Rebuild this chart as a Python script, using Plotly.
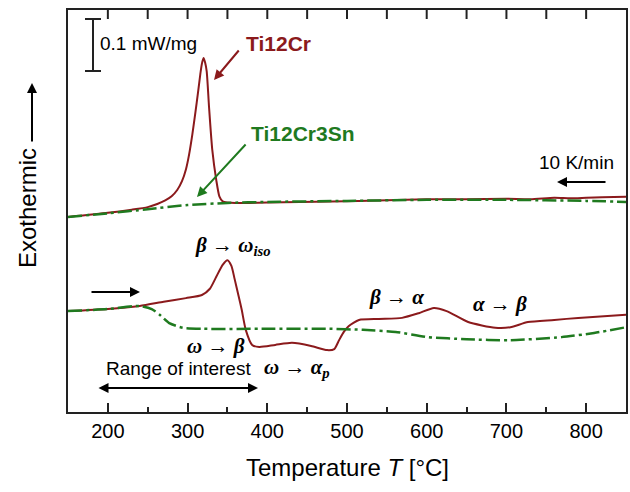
import plotly.graph_objects as go

# ---------------- data (heat flow in mW/mg, arbitrary offset) ----------------
T_cool_cr = [150, 200, 230, 250, 262, 272, 280, 287, 293, 298, 302, 306, 310, 313, 316, 318, 320,
             322, 324, 327, 331, 336, 340, 344, 350, 360, 400, 480, 550, 600, 650, 700, 730,
             760, 780, 800, 820, 850]
Q_cool_cr = [0.375, 0.383, 0.389, 0.394, 0.400, 0.407, 0.415, 0.427, 0.444, 0.467, 0.496, 0.534,
             0.578, 0.613, 0.650, 0.670, 0.681, 0.672, 0.655, 0.585, 0.504, 0.446, 0.414, 0.405,
             0.403, 0.402, 0.403, 0.405, 0.407, 0.409, 0.409, 0.410, 0.409, 0.412, 0.411, 0.412,
             0.413, 0.414]

T_cool_sn = [150, 200, 250, 300, 350, 400, 500, 600, 700, 800, 850]
Q_cool_sn = [0.375, 0.382, 0.390, 0.398, 0.402, 0.404, 0.406, 0.408, 0.408, 0.406, 0.404]

T_heat_cr = [150, 200, 240, 270, 298, 318, 328, 336, 344, 350, 355, 359, 364, 368, 373, 381,
             390, 410, 431, 455, 475, 484, 490, 496, 502, 515, 540, 569, 590, 609, 625, 652,
             686, 705, 727, 760, 790, 850]
Q_heat_cr = [0.194, 0.198, 0.204, 0.212, 0.219, 0.225, 0.237, 0.260, 0.283, 0.292, 0.281, 0.256,
             0.223, 0.196, 0.158, 0.129, 0.125, 0.129, 0.133, 0.127, 0.119, 0.121, 0.138, 0.154,
             0.165, 0.177, 0.179, 0.181, 0.190, 0.200, 0.194, 0.173, 0.162, 0.163, 0.173, 0.177,
             0.181, 0.187]

T_heat_sn = [150, 200, 240, 255, 265, 277, 294, 320, 400, 478, 520, 561, 602, 650, 704, 769, 810, 850]
Q_heat_sn = [0.194, 0.198, 0.204, 0.198, 0.187, 0.171, 0.162, 0.160, 0.160, 0.160, 0.158, 0.154,
             0.144, 0.140, 0.138, 0.144, 0.152, 0.163]

x_ticks = [200, 300, 400, 500, 600, 700, 800]
x_minor = [250, 350, 450, 550, 650, 750]

RED = "#8b1a1c"
GREEN = "#1f7a1f"

# ---------------- layout helpers (pixel -> paper) ----------------
X0, X1, Y0, Y1 = 68, 626, 10, 412
H = Y1 - Y0
def px(x):
    return (x - X0) / (X1 - X0)
def py(y):
    return (Y1 - y) / (Y1 - Y0)

fig = go.Figure()
for T, Q, col, dash, w in [
    (T_cool_cr, Q_cool_cr, RED, "solid", 2),
    (T_heat_cr, Q_heat_cr, RED, "solid", 2),
    (T_cool_sn, Q_cool_sn, GREEN, "14px,4px,3px,4px", 2.5),
    (T_heat_sn, Q_heat_sn, GREEN, "14px,4px,3px,4px", 2.5),
]:
    fig.add_trace(go.Scatter(x=T, y=Q, mode="lines",
                             line=dict(color=col, width=w, dash=dash, shape="spline", smoothing=0.6),
                             showlegend=False, hoverinfo="skip"))

AX_FONT = "Liberation Sans, Arial, sans-serif"
GR_FONT = "Liberation Serif, Times New Roman, serif"

fig.update_layout(
    width=630, height=492,
    margin=dict(l=X0, r=630 - X1, t=Y0, b=492 - Y1, autoexpand=False),
    paper_bgcolor="white", plot_bgcolor="white",
    font=dict(family=AX_FONT, color="black"),
    xaxis=dict(range=[150, 850], tickvals=x_ticks, ticks="inside", ticklen=9, tickwidth=2,
               tickcolor="#222", showgrid=False, zeroline=False, automargin=False,
               minor=dict(ticks="inside", tickvals=x_minor, ticklen=5, tickwidth=2, tickcolor="#222"),
               showline=True, linecolor="#222", linewidth=1.5, mirror=True,
               tickfont=dict(size=20, family=AX_FONT)),
    yaxis=dict(range=[0, H / 520], showticklabels=False, ticks="", showline=True,
               linecolor="#222", linewidth=1.5, mirror=True, showgrid=False, zeroline=False,
               automargin=False),
)

# ticks along the top frame (mirror of the x axis)
for t in x_ticks + x_minor:
    fig.add_shape(type="line", xref="x", yref="paper", x0=t, x1=t, y0=1, y1=1 - 9 / H,
                  line=dict(color="#222", width=2), layer="above")

# scale bar
sb = dict(type="line", xref="paper", yref="paper", line=dict(color="#222", width=2))
fig.add_shape(**sb, x0=px(93), x1=px(93), y0=py(19), y1=py(71))
fig.add_shape(**sb, x0=px(85), x1=px(101), y0=py(19), y1=py(19))
fig.add_shape(**sb, x0=px(85), x1=px(101), y0=py(71), y1=py(71))

def txt(x, y, text, size, color="black", family=AX_FONT, xanchor="center", angle=0):
    fig.add_annotation(x=px(x), y=py(y), xref="paper", yref="paper", text=text, showarrow=False,
                       font=dict(size=size, color=color, family=family), xanchor=xanchor,
                       yanchor="middle", textangle=angle)

def arrow(x_tail, y_tail, x_head, y_head, color="black", width=2, side="end", size=1.0):
    fig.add_annotation(x=px(x_head), y=py(y_head), xref="paper", yref="paper",
                       ax=x_tail - x_head, ay=y_tail - y_head, axref="pixel", ayref="pixel",
                       text="", showarrow=True, arrowhead=2, arrowsize=size, arrowwidth=width,
                       arrowcolor=color, arrowside=side)

txt(98, 43, "0.1 mW/mg", 19, xanchor="left")
txt(278, 43, "<b>Ti12Cr</b>", 21, RED)
txt(303, 133, "<b>Ti12Cr3Sn</b>", 21, GREEN)
txt(576, 162, "10 K/min", 19)
txt(233, 246, "<b><i>β → ω<sub>iso</sub></i></b>", 21, family=GR_FONT)
txt(216, 346, "<b><i>ω → β</i></b>", 21, family=GR_FONT)
txt(178, 368, "Range of interest", 19)
txt(297, 368, "<b><i>ω → α<sub>p</sub></i></b>", 21, family=GR_FONT)
txt(396, 297, "<b><i>β → α</i></b>", 21, family=GR_FONT)
txt(500, 304, "<b><i>α → β</i></b>", 21, family=GR_FONT)
txt(27, 208, "Exothermic", 24, angle=-90)
txt(347, 467, "Temperature <i>T</i> [°C]", 24)

arrow(240, 49, 214, 80, RED, 2)
arrow(247, 143, 197, 197, GREEN, 2)
arrow(607, 182, 557, 182, "black", 2)
arrow(90, 292, 140, 292, "black", 2)
arrow(97, 388, 258, 388, "black", 2, side="end+start")
arrow(32, 143, 32, 83, "black", 2)

fig.write_html("out.html", config={"displayModeBar": False},
               post_script="document.body.style.margin='0';document.body.style.overflow='hidden';")
